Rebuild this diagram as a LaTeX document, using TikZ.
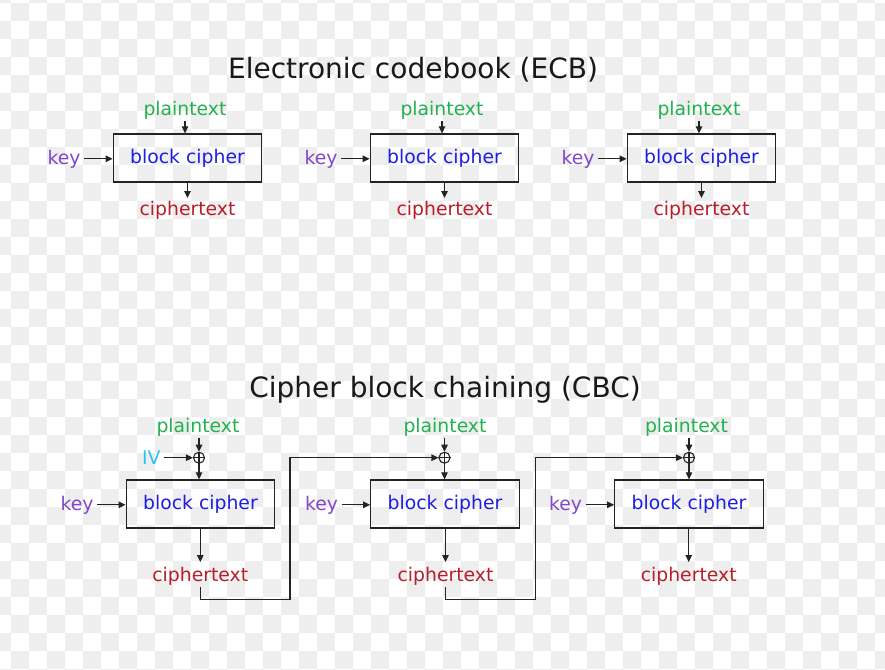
\documentclass[tikz,border=0pt]{standalone}
\usepackage{fontspec}
\setmainfont{DejaVu Sans}
\usetikzlibrary{arrows.meta}
\definecolor{ptgreen}{RGB}{34,178,80}
\definecolor{bcblue}{RGB}{30,30,225}
\definecolor{ctred}{RGB}{185,30,40}
\definecolor{keypurple}{RGB}{130,70,205}
\definecolor{ivcyan}{RGB}{40,195,245}
\definecolor{checker}{RGB}{238,238,238}
\definecolor{linec}{RGB}{35,35,35}
\begin{document}
\begin{tikzpicture}[x=1pt,y=-1pt,
  lbl/.style={inner sep=1.5pt, font=\fontsize{18.8}{22}\selectfont, anchor=base},
  ptxt/.style={lbl,text=ptgreen},
  ctxt/.style={lbl,text=ctred},
  kl/.style={lbl,text=keypurple,anchor=base east},
  ivl/.style={lbl,text=ivcyan,anchor=base east},
  bc/.style={draw=linec,line width=1.3pt,minimum width=148.5pt,minimum height=48pt,inner sep=0pt,text=bcblue,font=\fontsize{18.8}{22}\selectfont},
  ttl/.style={anchor=base,inner sep=0pt,font=\fontsize{28}{32}\selectfont,text=black!90},
  arr/.style={draw=linec,line width=1.2pt,-{Triangle[length=7pt,width=6.5pt]}},
  conn/.style={draw=linec,line width=1.1pt},
  xorn/.style={draw=linec,line width=1.1pt,circle,minimum size=11pt,inner sep=0pt}
]
\useasboundingbox (0,0) rectangle (885,669);
% transparency checkerboard background
\begin{scope}
\clip (0,0) rectangle (885,669);
\fill[white] (0,0) rectangle (885,669);
\foreach \i in {-1,...,49}{\foreach \j in {-1,...,37}{
  \pgfmathtruncatemacro{\s}{mod(\i+\j+100,2)}
  \ifnum\s=0 \fill[checker] ({11+18*\i},{2.7+18*\j}) rectangle ++(18,18);\fi
}}
\end{scope}

% titles
\node[ttl] (t1) at (413,78.3) {Electronic codebook (ECB)};
\node[ttl] (t2) at (445,397.3) {Cipher block chaining (CBC)};

% ECB
\foreach \n/\X in {1/187.5,2/444.5,3/701.5}{
  \node[bc] (eb\n) at (\X,158) {block cipher};
  \node[ptxt] (ep\n) at (\X-2.5,115.5) {plaintext};
  \node[ctxt] (ec\n) at (\X,215.5) {ciphertext};
  \node[kl] (ek\n) at (\X-74.25-31,164) {key};
  \draw[arr] (ep\n.south) -- (ep\n.south |- eb\n.north);
  \draw[arr,shorten >=1.5pt] (eb\n.south) -- (eb\n.south |- ec\n.north);
  \draw[arr,shorten <=2pt] (ek\n.east) -- (ek\n.east -| eb\n.west);
}

% CBC
\foreach \n/\X/\O/\P/\C in {1/200.5/199/198/200.3,2/445/444.5/445/445.5,3/689/689/686.5/688.7}{
  \node[bc] (cb\n) at (\X,504) {block cipher};
  \node[xorn] (cx\n) at (\O,457.7) {};
  \draw[conn] (cx\n.north) -- (cx\n.south) (cx\n.west) -- (cx\n.east);
  \node[ptxt] (cp\n) at (\P,432) {plaintext};
  \node[ctxt] (cc\n) at (\C,581) {ciphertext};
  \node[kl] (ck\n) at (\X-74.25-31,510) {key};
  \draw[arr] (cx\n.north |- cp\n.south) -- (cx\n.north);
  \draw[arr] (cx\n.south) -- (cx\n.south |- cb\n.north);
  \draw[arr,shorten >=3pt] (cb\n.south -| cc\n.south) -- (cc\n.north);
  \draw[arr,shorten <=2pt] (ck\n.east) -- (ck\n.east -| cb\n.west);
}

\node[ivl] (iv) at (162.2,464.3) {IV};
\draw[arr,shorten <=2pt] (iv.east |- cx1.west) -- (cx1.west);

\coordinate (j1) at (290,599.5);
\coordinate (j2) at (535.5,599.5);
\draw[arr] (cc1.south) |- (j1) |- (cx2.west);
\draw[arr] (cc2.south) |- (j2) |- (cx3.west);
\end{tikzpicture}
\end{document}
